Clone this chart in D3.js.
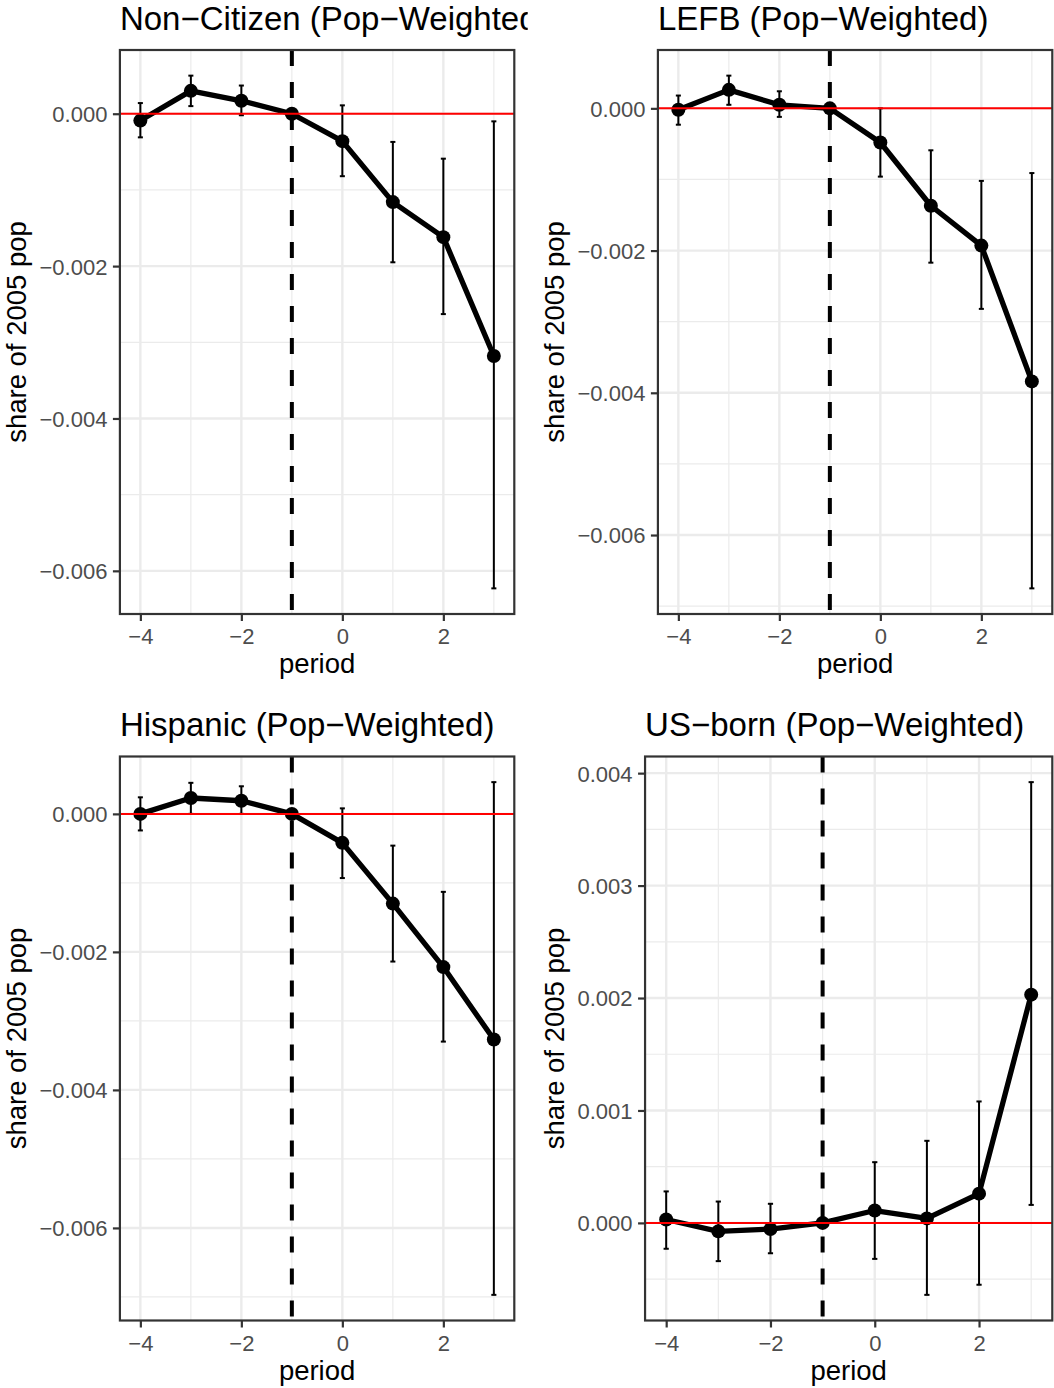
<!DOCTYPE html>
<html>
<head>
<meta charset="utf-8">
<script src="https://cdn.jsdelivr.net/npm/d3@7"></script>
<style>
  body { margin: 0; background: #fff; }
  svg { display: block; font-family: "Liberation Sans", Arial, Helvetica, sans-serif; }
</style>
</head>
<body>
<div id="chart"></div>
<script>
// periods on the x axis
const periods = [-4, -3, -2, -1, 0, 1, 2, 3];

// Non-Citizen
const nonCitizenEst = [-0.00009, 0.0003, 0.00017, 0, -0.00036, -0.00116, -0.00162, -0.00318];
const nonCitizenLo  = [-0.00031, 0.0001, -0.00002, 0, -0.00082, -0.00195, -0.00263, -0.00623];
const nonCitizenHi  = [0.00014, 0.0005, 0.00037, 0, 0.00011, -0.00037, -0.00059, -0.0001];

// LEFB
const lefbEst = [-0.00002, 0.00026, 0.00005, 0, -0.00048, -0.00137, -0.00193, -0.00384];
const lefbLo  = [-0.00023, 0.00005, -0.00012, 0, -0.00096, -0.00217, -0.00282, -0.00675];
const lefbHi  = [0.00018, 0.00046, 0.00024, 0, 0.0, -0.00059, -0.00102, -0.00091];

// Hispanic
const hispanicEst = [0, 0.00023, 0.00019, 0, -0.00042, -0.0013, -0.00222, -0.00327];
const hispanicLo  = [-0.00024, 0.0, 0.0, 0, -0.00093, -0.00214, -0.0033, -0.00697];
const hispanicHi  = [0.00024, 0.00045, 0.0004, 0, 0.00008, -0.00046, -0.00113, 0.00046];

// US-born
const usBornEst = [0.00003, -0.000075, -0.000055, 0, 0.00011, 0.00004, 0.00026, 0.00203];
const usBornLo  = [-0.00023, -0.00034, -0.00027, 0, -0.00032, -0.00064, -0.00055, 0.00016];
const usBornHi  = [0.00028, 0.00019, 0.00017, 0, 0.00054, 0.00073, 0.00108, 0.00392];

// tick labels
const xTicks = [-4, -2, 0, 2];
const xMinor = [-3, -1, 1, 3];
const yTicksDown = [-0.006, -0.004, -0.002, 0];
const yMinorDown = [-0.007, -0.005, -0.003, -0.001];
const yTicksUp = [0, 0.001, 0.002, 0.003, 0.004];
const yMinorUp = [-0.0005, 0.0005, 0.0015, 0.0025, 0.0035];

const titles = ["Non\u2212Citizen (Pop\u2212Weighted)", "LEFB (Pop\u2212Weighted)",
                "Hispanic (Pop\u2212Weighted)", "US\u2212born (Pop\u2212Weighted)"];
const eventPeriod = -1;
const barWidth = 0.1;

const panels = [
  { title: titles[0], est: nonCitizenEst, lo: nonCitizenLo, hi: nonCitizenHi, yTicks: yTicksDown, yMinor: yMinorDown, col: 0, row: 0 },
  { title: titles[1], est: lefbEst, lo: lefbLo, hi: lefbHi, yTicks: yTicksDown, yMinor: yMinorDown, col: 1, row: 0 },
  { title: titles[2], est: hispanicEst, lo: hispanicLo, hi: hispanicHi, yTicks: yTicksDown, yMinor: yMinorDown, col: 0, row: 1 },
  { title: titles[3], est: usBornEst, lo: usBornLo, hi: usBornHi, yTicks: yTicksUp, yMinor: yMinorUp, col: 1, row: 1 }
];

const width = 1054, height = 1388;
const colX = [0, 538], rowY = [0, 706.5];

const svg = d3.select("#chart").append("svg")
    .attr("width", width)
    .attr("height", height);

svg.append("defs").append("clipPath").attr("id", "leftcol")
  .append("rect").attr("x", 0).attr("y", 0).attr("width", 527.7).attr("height", height);

const fmtY = d3.format(".3f");
const fmtX = d3.format("d");

// measure text width of tick labels
function textWidth(str, size) {
  const t = svg.append("text").attr("font-size", size).text(str);
  const w = t.node().getComputedTextLength();
  t.remove();
  return w;
}

panels.forEach(p => {
  const cx = colX[p.col], cy = rowY[p.row];
  const g = svg.append("g");
  if (p.col === 0) g.attr("clip-path", "url(#leftcol)");

  const labelW = d3.max(p.yTicks, v => textWidth(fmtY(v), 22));
  const left = cx + 39.5 + labelW + 12.5;
  const right = cx + 514.3;
  const top = cy + 50, bottom = cy + 614;

  // ggplot style 5% expansion
  const xr = [d3.min(periods) - barWidth / 2, d3.max(periods) + barWidth / 2];
  const xpad = (xr[1] - xr[0]) * 0.05;
  const x = d3.scaleLinear().domain([xr[0] - xpad, xr[1] + xpad]).range([left, right]);
  const yr = [d3.min(p.lo), d3.max(p.hi)];
  const ypad = (yr[1] - yr[0]) * 0.05;
  const y = d3.scaleLinear().domain([yr[0] - ypad, yr[1] + ypad]).range([bottom, top]);

  const inY = v => v >= y.domain()[0] && v <= y.domain()[1];

  // grid
  const grid = g.append("g");
  grid.selectAll(".ymin").data(p.yMinor.filter(inY)).enter().append("line")
    .attr("x1", left).attr("x2", right).attr("y1", d => y(d)).attr("y2", d => y(d))
    .attr("stroke", "#EBEBEB").attr("stroke-width", 1.2);
  grid.selectAll(".xmin").data(xMinor).enter().append("line")
    .attr("y1", top).attr("y2", bottom).attr("x1", d => x(d)).attr("x2", d => x(d))
    .attr("stroke", "#EBEBEB").attr("stroke-width", 1.2);
  grid.selectAll(".ymaj").data(p.yTicks).enter().append("line")
    .attr("x1", left).attr("x2", right).attr("y1", d => y(d)).attr("y2", d => y(d))
    .attr("stroke", "#EBEBEB").attr("stroke-width", 2.4);
  grid.selectAll(".xmaj").data(xTicks).enter().append("line")
    .attr("y1", top).attr("y2", bottom).attr("x1", d => x(d)).attr("x2", d => x(d))
    .attr("stroke", "#EBEBEB").attr("stroke-width", 2.4);

  const idx = d3.range(periods.length);

  // error bars
  const eb = g.append("g").attr("stroke", "#000").attr("stroke-width", 2).attr("fill", "none");
  eb.selectAll(".v").data(idx).enter().append("line")
    .attr("x1", i => x(periods[i])).attr("x2", i => x(periods[i]))
    .attr("y1", i => y(p.lo[i])).attr("y2", i => y(p.hi[i]));
  eb.selectAll(".lo").data(idx).enter().append("line")
    .attr("x1", i => x(periods[i] - barWidth / 2)).attr("x2", i => x(periods[i] + barWidth / 2))
    .attr("y1", i => y(p.lo[i])).attr("y2", i => y(p.lo[i]));
  eb.selectAll(".hi").data(idx).enter().append("line")
    .attr("x1", i => x(periods[i] - barWidth / 2)).attr("x2", i => x(periods[i] + barWidth / 2))
    .attr("y1", i => y(p.hi[i])).attr("y2", i => y(p.hi[i]));

  // line + points
  const line = d3.line().x(i => x(periods[i])).y(i => y(p.est[i]));
  g.append("path").datum(idx)
    .attr("d", line)
    .attr("fill", "none").attr("stroke", "#000")
    .attr("stroke-width", 5.3).attr("stroke-linejoin", "round");
  g.selectAll(".pt").data(idx).enter().append("circle")
    .attr("cx", i => x(periods[i])).attr("cy", i => y(p.est[i]))
    .attr("r", 7).attr("fill", "#000");

  // reference lines
  g.append("line")
    .attr("x1", x(eventPeriod)).attr("x2", x(eventPeriod))
    .attr("y1", top).attr("y2", bottom)
    .attr("stroke", "#000").attr("stroke-width", 4)
    .attr("stroke-dasharray", "16,16");
  g.append("line")
    .attr("x1", left).attr("x2", right)
    .attr("y1", y(0)).attr("y2", y(0))
    .attr("stroke", "#FF0000").attr("stroke-width", 2);

  // border
  g.append("rect")
    .attr("x", left).attr("y", top)
    .attr("width", right - left).attr("height", bottom - top)
    .attr("fill", "none").attr("stroke", "#333333").attr("stroke-width", 2.2);

  // axes
  const ya = g.append("g").attr("transform", `translate(${left},0)`)
    .call(d3.axisLeft(y).tickValues(p.yTicks).tickFormat(fmtY).tickSize(7).tickPadding(5.5));
  const xa = g.append("g").attr("transform", `translate(0,${bottom})`)
    .call(d3.axisBottom(x).tickValues(xTicks).tickFormat(fmtX).tickSize(7).tickPadding(6));
  [ya, xa].forEach(a => {
    a.select(".domain").remove();
    a.selectAll(".tick line").attr("stroke", "#333333").attr("stroke-width", 2.2);
    a.selectAll(".tick text").attr("fill", "#4D4D4D").attr("font-size", 22)
      .attr("font-family", "'Liberation Sans', Arial, sans-serif");
  });
  xa.selectAll(".tick text").attr("dy", null).attr("y", 30).attr("dominant-baseline", "alphabetic");
  ya.selectAll(".tick text").attr("dy", "0.36em");

  // titles
  g.append("text")
    .attr("x", left).attr("y", cy + 29.5)
    .attr("font-size", 33).attr("fill", "#000")
    .text(p.title);
  g.append("text")
    .attr("x", (left + right) / 2).attr("y", bottom + 59)
    .attr("text-anchor", "middle").attr("font-size", 27.5).attr("fill", "#000")
    .text("period");
  g.append("text")
    .attr("transform", `translate(${cx + 25.5},${(top + bottom) / 2}) rotate(-90)`)
    .attr("text-anchor", "middle").attr("font-size", 27.5).attr("fill", "#000")
    .text("share of 2005 pop");
});
</script>
</body>
</html>
